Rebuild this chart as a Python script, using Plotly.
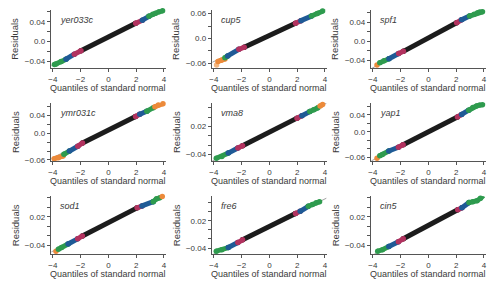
import plotly.graph_objects as go
import numpy as np

W, H = 498, 283

GENES = ["yer033c", "cup5", "spf1", "ymr031c", "vma8", "yap1", "sod1", "fre6", "cin5"]

# quantiles (Q), residuals (R), colour code per point (C); consecutive same codes form a run
YER033C_Q = [-3.88, -3.76, -3.4, -3.05, -3.05, -2.45, -2.45, -1.97, -1.97, 1.97, 1.97, 2.45, 2.45, 2.92, 2.92, 3.2, 3.4, 3.65, 3.9]
YER033C_R = [-0.047, -0.046, -0.041, -0.036, -0.036, -0.026, -0.026, -0.019, -0.019, 0.037, 0.037, 0.043, 0.043, 0.051, 0.051, 0.055, 0.057, 0.060, 0.062]
YER033C_C = ["g", "g", "g", "g", "b", "b", "r", "r", "k", "k", "r", "r", "b", "b", "g", "g", "g", "g", "g"]

CUP5_Q = [-3.8, -3.7, -3.45, -3.2, -3.2, -3.0, -3.0, -2.2, -2.2, -1.81, -1.81, 1.88, 1.88, 2.27, 2.27, 3.03, 3.03, 3.45, 3.83]
CUP5_R = [-0.064, -0.055, -0.052, -0.049, -0.046, -0.042, -0.042, -0.026, -0.026, -0.021, -0.021, 0.037, 0.037, 0.043, 0.043, 0.054, 0.054, 0.060, 0.066]
CUP5_C = ["O", "o", "o", "o", "g", "g", "b", "b", "r", "r", "k", "k", "r", "r", "b", "b", "g", "g", "g"]

SPF1_Q = [-3.7, -3.5, -3.2, -2.84, -2.84, -2.14, -2.14, -1.8, -1.8, 2.03, 2.03, 2.38, 2.38, 2.96, 2.96, 3.3, 3.54, 3.7, 3.89]
SPF1_R = [-0.0497, -0.045, -0.041, -0.0366, -0.0366, -0.0255, -0.0255, -0.021, -0.021, 0.039, 0.039, 0.045, 0.045, 0.053, 0.053, 0.057, 0.060, 0.0615, 0.062]
SPF1_C = ["o", "g", "g", "g", "b", "b", "r", "r", "k", "k", "r", "r", "b", "b", "g", "g", "g", "g", "g"]

YMR031C_Q = [-3.9, -3.6, -3.26, -3.2, -2.8, -2.8, -2.2, -2.2, -1.86, -1.86, 1.96, 1.96, 2.26, 2.26, 2.77, 2.77, 3.24, 3.35, 3.6, 3.93]
YMR031C_R = [-0.057, -0.055, -0.051, -0.047, -0.040, -0.040, -0.029, -0.029, -0.0215, -0.0215, 0.038, 0.038, 0.043, 0.043, 0.050, 0.050, 0.058, 0.060, 0.064, 0.067]
YMR031C_C = ["o", "o", "o", "g", "g", "b", "b", "r", "r", "k", "k", "r", "r", "b", "b", "g", "g", "o", "o", "o"]

VMA8_Q = [-3.82, -3.42, -2.96, -2.96, -2.27, -2.27, -1.93, -1.93, 1.99, 1.99, 2.34, 2.34, 2.91, 2.91, 3.2, 3.49, 3.65, 3.83]
VMA8_R = [-0.048, -0.044, -0.037, -0.037, -0.026, -0.026, -0.021, -0.021, 0.038, 0.038, 0.043, 0.043, 0.052, 0.052, 0.056, 0.060, 0.064, 0.067]
VMA8_C = ["g", "g", "g", "b", "b", "r", "r", "k", "k", "r", "r", "b", "b", "g", "g", "g", "o", "o"]

YAP1_Q = [-3.7, -3.5, -3.31, -2.85, -2.85, -2.16, -2.16, -1.82, -1.82, 2.09, 2.09, 2.39, 2.39, 2.9, 2.9, 3.2, 3.47, 3.7, 3.89]
YAP1_R = [-0.062, -0.056, -0.053, -0.045, -0.045, -0.036, -0.036, -0.030, -0.030, 0.035, 0.035, 0.041, 0.041, 0.051, 0.051, 0.057, 0.061, 0.063, 0.064]
YAP1_C = ["o", "g", "g", "g", "b", "b", "r", "r", "k", "k", "r", "r", "b", "b", "g", "g", "g", "g", "g"]

SOD1_Q = [-3.77, -3.6, -3.37, -2.9, -2.9, -2.21, -2.21, -1.87, -1.87, 2.07, 2.07, 2.42, 2.42, 3.23, 3.23, 3.47, 3.7, 3.88]
SOD1_R = [-0.052, -0.048, -0.044, -0.037, -0.037, -0.026, -0.026, -0.020, -0.020, 0.039, 0.039, 0.043, 0.043, 0.052, 0.052, 0.058, 0.060, 0.063]
SOD1_C = ["o", "g", "g", "g", "b", "b", "r", "r", "k", "k", "r", "r", "b", "b", "g", "g", "g", "o"]

FRE6_Q = [-3.82, -3.42, -2.96, -2.96, -2.27, -2.27, -1.93, -1.93, 1.88, 1.88, 2.22, 2.22, 2.8, 2.8, 3.1, 3.37, 3.61, 3.77]
FRE6_R = [-0.047, -0.044, -0.039, -0.039, -0.028, -0.028, -0.022, -0.022, 0.036, 0.036, 0.041, 0.041, 0.052, 0.052, 0.056, 0.060, 0.062, 0.0745]
FRE6_C = ["g", "g", "g", "b", "b", "r", "r", "k", "k", "r", "r", "b", "b", "g", "g", "g", "g", "o"]

CIN5_Q = [-3.65, -3.31, -2.85, -2.85, -2.16, -2.16, -1.81, -1.81, 2.11, 2.11, 2.41, 2.41, 2.92, 2.92, 3.2, 3.5, 3.75, 3.96]
CIN5_R = [-0.052, -0.049, -0.042, -0.042, -0.032, -0.032, -0.026, -0.026, 0.035, 0.035, 0.039, 0.039, 0.050, 0.050, 0.052, 0.054, 0.059, 0.065]
CIN5_C = ["g", "g", "g", "b", "b", "r", "r", "k", "k", "r", "r", "b", "b", "g", "g", "g", "g", "g"]

PANELS = [
    (YER033C_Q, YER033C_R, YER033C_C),
    (CUP5_Q, CUP5_R, CUP5_C),
    (SPF1_Q, SPF1_R, SPF1_C),
    (YMR031C_Q, YMR031C_R, YMR031C_C),
    (VMA8_Q, VMA8_R, VMA8_C),
    (YAP1_Q, YAP1_R, YAP1_C),
    (SOD1_Q, SOD1_R, SOD1_C),
    (FRE6_Q, FRE6_R, FRE6_C),
    (CIN5_Q, CIN5_R, CIN5_C),
]

X_TICKS = [-4, -2, 0, 2, 4]
X_LABELS = ["\u22124", "\u22122", "0", "2", "4"]

T02 = [-0.06, -0.04, -0.02, 0.0, 0.02, 0.04, 0.06]
Y_TICKS = [T02, [-0.06, -0.03, 0.0, 0.03, 0.06], T02, T02, T02, T02, T02, T02, T02]
Y_LABELS = [
    ["", "\u22120.04", "", "0.0", "", "0.04", ""],
    ["\u22120.06", "", "0.0", "", "0.06"],
    ["", "\u22120.04", "", "0.0", "", "0.04", ""],
    ["\u22120.06", "", "", "0.0", "", "0.04", ""],
    ["", "\u22120.04", "", "", "0.02", "", ""],
    ["\u22120.06", "", "", "0.0", "", "0.04", ""],
    ["", "\u22120.04", "", "", "0.02", "", ""],
    ["", "\u22120.04", "", "", "0.02", "", ""],
    ["", "\u22120.04", "", "", "0.02", "", ""],
]
Y_RANGES = [[-0.054, 0.064], [-0.071, 0.069], [-0.056, 0.066],
            [-0.0627, 0.0684], [-0.0543, 0.0704], [-0.0688, 0.0678],
            [-0.0586, 0.0635], [-0.054, 0.0743], [-0.0586, 0.0635]]

COLORS = {"k": "#1c1c1c", "r": "#b2325f", "b": "#1f5a96", "g": "#2e9b4e",
          "o": "#ec8a3a", "O": "#f3b680"}

FONT = "Liberation Sans, Arial, Helvetica, sans-serif"
AX_COL = "#555555"
TXT_COL = "#3a3a3a"

COL_LEFT = [49, 211, 371]
COL_W = 116
ROW_TOP = [10, 104.5, 199]
ROW_H = 59

fig = go.Figure()
layout = dict(width=W, height=H, margin=dict(l=0, r=0, t=0, b=0),
              paper_bgcolor="white", plot_bgcolor="white", showlegend=False,
              font=dict(family=FONT, color=TXT_COL))
annotations = []

for i, (q, r, c) in enumerate(PANELS):
    row, col = divmod(i, 3)
    n = i + 1
    xa = "x" if n == 1 else f"x{n}"
    ya = "y" if n == 1 else f"y{n}"
    xd = [COL_LEFT[col] / W, (COL_LEFT[col] + COL_W) / W]
    yd = [1 - (ROW_TOP[row] + ROW_H) / H, 1 - ROW_TOP[row] / H]

    # reference line fitted through the central (black) part
    qa = np.array(q); ra = np.array(r); ca = np.array(c)
    mk = ca == "k"
    slope, icpt = np.polyfit(qa[mk], ra[mk], 1)
    xl = np.array([-4.1, 4.1])
    fig.add_trace(go.Scatter(x=xl, y=slope * xl + icpt, mode="lines",
                             line=dict(color="#8a8a8a", width=0.8),
                             xaxis=xa, yaxis=ya, hoverinfo="skip", cliponaxis=True))

    # split into runs
    runs = []
    start = 0
    for j in range(1, len(c) + 1):
        if j == len(c) or c[j] != c[start]:
            runs.append((c[start], q[start:j], r[start:j]))
            start = j
    runs.sort(key=lambda t: 0 if t[0] == "k" else 1)
    for code, xs, ys in runs:
        col_ = COLORS[code]
        fig.add_trace(go.Scatter(x=xs, y=ys, mode="lines+markers",
                                 line=dict(color=col_, width=5),
                                 marker=dict(color=col_, size=5.5, line=dict(width=0)),
                                 xaxis=xa, yaxis=ya, hoverinfo="skip", cliponaxis=False))

    axcommon = dict(showline=True, linecolor=AX_COL, linewidth=1, ticks="outside",
                    ticklen=3, tickwidth=1, tickcolor=AX_COL, showgrid=False,
                    zeroline=False, tickfont=dict(size=8, color=TXT_COL, family=FONT))
    layout["xaxis" if n == 1 else f"xaxis{n}"] = dict(
        domain=xd, range=[-4.15, 4.15], tickmode="array", tickvals=X_TICKS,
        ticktext=X_LABELS, anchor=ya, **axcommon)
    layout["yaxis" if n == 1 else f"yaxis{n}"] = dict(
        domain=yd, range=Y_RANGES[i], tickmode="array", tickvals=Y_TICKS[i],
        ticktext=Y_LABELS[i], anchor=xa, **axcommon)

    annotations.append(dict(text=GENES[i], xref=f"{xa} domain", yref=f"{ya} domain",
                            x=0.07, y=0.83, xanchor="left", yanchor="middle",
                            showarrow=False, borderpad=0,
                            font=dict(size=9, family=FONT, color=TXT_COL, style="italic")))
    annotations.append(dict(text="Residuals", xref="paper", yref="paper",
                            x=(COL_LEFT[col] - 36) / W,
                            y=1 - (ROW_TOP[row] + ROW_H / 2) / H,
                            textangle=-90, showarrow=False, xanchor="center", yanchor="middle",
                            borderpad=0,
                            font=dict(size=9.5, family=FONT, color=TXT_COL)))
    annotations.append(dict(text="Quantiles of standard normal", xref="paper", yref="paper",
                            x=(COL_LEFT[col] + COL_W / 2) / W,
                            y=1 - (ROW_TOP[row] + ROW_H + 20) / H,
                            showarrow=False, xanchor="center", yanchor="middle",
                            borderpad=0,
                            font=dict(size=9, family=FONT, color=TXT_COL)))

layout["annotations"] = annotations
fig.update_layout(**layout)
fig.write_html("out.html")
